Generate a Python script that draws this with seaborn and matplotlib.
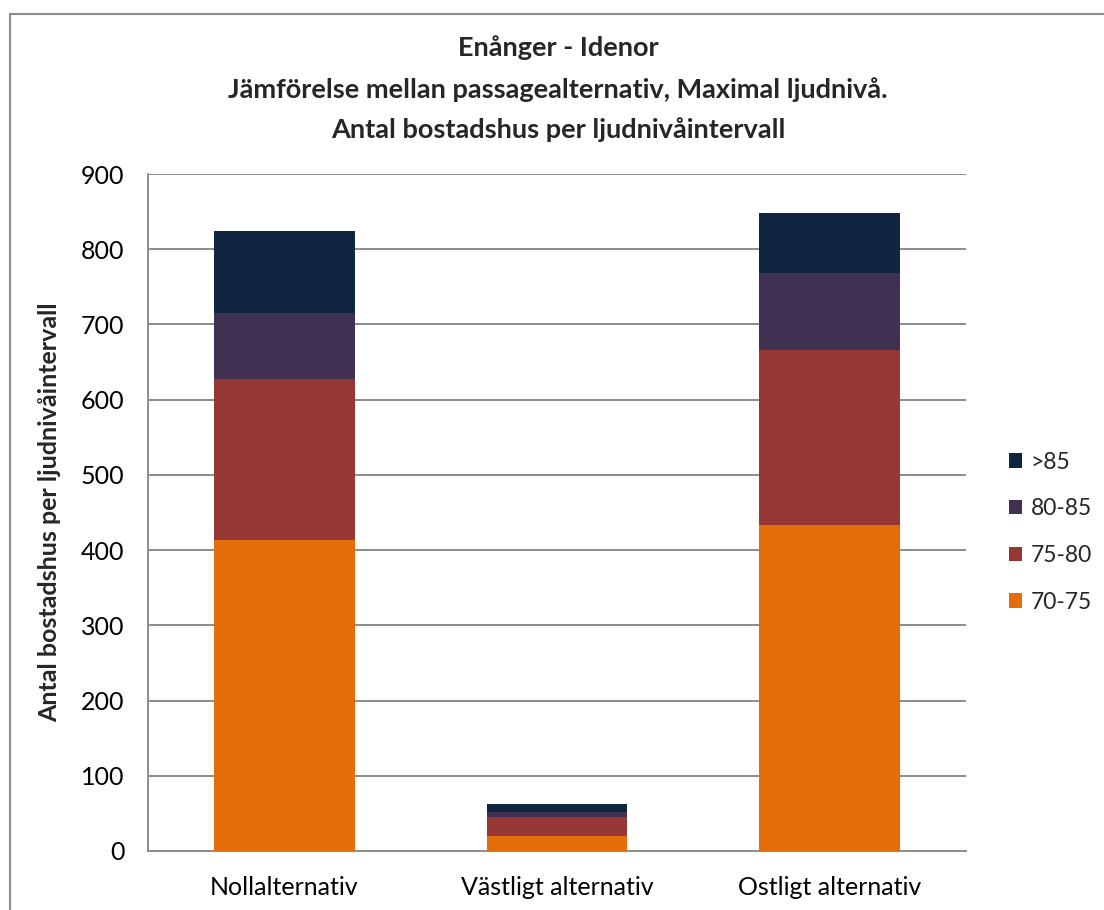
import matplotlib
matplotlib.use("Agg")
import matplotlib.pyplot as plt
import seaborn as sns
import pandas as pd
import numpy as np
from matplotlib.lines import Line2D
from matplotlib.patches import Patch

categories = ["Nollalternativ", "Västligt alternativ", "Ostligt alternativ"]
series_names = ["70-75", "75-80", "80-85", ">85"]
v70_75 = [414, 20, 433]
v75_80 = [213, 25, 233]
v80_85 = [88, 7, 102]
v85 = [109, 11, 80]
colors = ["#E46C0A", "#953735", "#403152", "#10253F"]
yticks = [0, 100, 200, 300, 400, 500, 600, 700, 800, 900]
title_lines = ["Enånger - Idenor",
               "Jämförelse mellan passagealternativ, Maximal ljudnivå.",
               "Antal bostadshus per ljudnivåintervall"]

sns.set_theme(style="white")
plt.rcParams['font.family'] = ['Lato', 'DejaVu Sans']

df = pd.DataFrame({"cat": categories, "70-75": v70_75, "75-80": v75_80,
                   "80-85": v80_85, ">85": v85})

W, H = 1104, 910
fig = plt.figure(figsize=(W/100, H/100), dpi=100)
ax = fig.add_axes([148/W, 1 - 851/H, (966-148)/W, (851-174)/H])

bottom = np.zeros(len(categories))
for name, col in zip(series_names, colors):
    sns.barplot(data=df, x="cat", y=bottom + df[name].values, ax=ax, color=col,
                width=0.515, saturation=1, linewidth=0)
    bottom = bottom + df[name].values

n = len(categories)
for i, p in enumerate(ax.patches):
    p.set_zorder(10 - i // n)

ax.set_ylim(0, 900)
ax.set_yticks(yticks)
ax.set_xlim(-0.5, 2.5)
ax.yaxis.grid(True, color="#8C8C8C", linewidth=1.4, zorder=0)
ax.set_axisbelow(True)
for s in ["top", "right"]:
    ax.spines[s].set_visible(False)
for s in ["left", "bottom"]:
    ax.spines[s].set_color("#8C8C8C")
    ax.spines[s].set_linewidth(1.4)
ax.tick_params(axis="y", labelsize=18, colors="black", length=0, pad=17)
ax.tick_params(axis="x", labelsize=18, colors="black", length=0, pad=18)
ax.set_xlabel("")
ax.set_ylabel("Antal bostadshus per ljudnivåintervall", fontsize=18,
              fontweight="bold", labelpad=14)

for yc, line in zip([48, 90, 130], title_lines):
    fig.text(558/W, 1 - yc/H, line, ha="center", va="center",
             fontsize=19.5, fontweight="bold")

handles = [Patch(facecolor=c, edgecolor="none") for c in colors[::-1]]
fig.legend(handles, series_names[::-1], loc="upper left",
           bbox_to_anchor=(988/W, 1 - 431/H), frameon=False, fontsize=16.5,
           handlelength=0.6, handleheight=0.6, labelspacing=1.12, handletextpad=0.35,
           borderpad=0.4)

fig.add_artist(Line2D([10/W, 10/W], [0, 1 - 14/H], transform=fig.transFigure,
                      color="#8C8C8C", linewidth=1.5))
fig.add_artist(Line2D([10/W, 1], [1 - 14/H, 1 - 14/H], transform=fig.transFigure,
                      color="#8C8C8C", linewidth=1.5))

fig.savefig("out.png", dpi=100)
